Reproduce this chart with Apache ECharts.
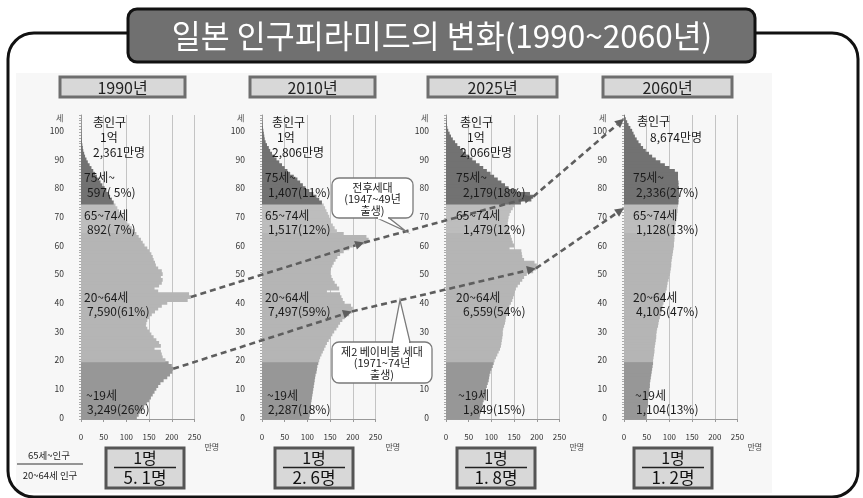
<!DOCTYPE html>
<html><head><meta charset="utf-8">
<script src="https://cdn.jsdelivr.net/npm/echarts@6/dist/echarts.min.js"></script>
<style>html,body{margin:0;padding:0;background:#fff}#c{width:863px;height:498px}</style>
</head><body><div id="c"></div>
<script>
// ---------- data ----------
const titleText = '일본 인구피라미드의 변화(1990~2060년)';
const years = ['1990년', '2010년', '2025년', '2060년'];
const ages = ['0','1','2','3','4','5','6','7','8','9','10','11','12','13','14','15','16','17','18','19','20','21','22','23','24','25','26','27','28','29','30','31','32','33','34','35','36','37','38','39','40','41','42','43','44','45','46','47','48','49','50','51','52','53','54','55','56','57','58','59','60','61','62','63','64','65','66','67','68','69','70','71','72','73','74','75','76','77','78','79','80','81','82','83','84','85','86','87','88','89','90','91','92','93','94','95','96','97','98','99','100','101','102','103','104','105'];
const xTicks = [0, 50, 100, 150, 200, 250];
// population by single age (만명)
const pop1990 = [123,127,131,135,139,145,150,154,158,162,
  166,170,175,182,190,196,201,203,200,193,
  186,180,178,176,162,176,172,166,160,155,
  150,146,143,144,146,150,156,163,170,178,
  190,235,242,238,170,162,172,178,180,176,
  180,178,170,165,163,160,158,155,150,146,
  140,136,132,127,122,117,112,107,102,97,
  93,88,84,80,76,72,68,64,60,56,
  52,47,43,39,35,31,27,23,19,15,
  12,9,7,5,4,3,2,1.5,1,0.7,
  0.5,0.3,0,0,0,0];
const pop2010 = [104,105,106,107,107,108,109,110,111,112,
  113,114,115,116,117,118,120,121,122,124,
  126,128,131,134,137,140,143,147,151,155,
  159,164,168,172,177,182,192,198,200,196,
  182,178,175,172,143,170,165,160,156,153,
  150,150,152,155,158,162,166,172,180,192,
  200,225,235,230,180,165,160,156,152,150,
  148,145,142,139,136,132,126,120,113,104,
  96,90,84,78,70,62,56,50,44,38,
  32,27,22,18,15,11,8,6,5,4,
  3,2,1,0.5,0,0];
const pop2025 = [74,75,77,78,80,81,83,84,86,87,
  88,90,92,94,95,96,98,100,103,105,
  107,110,113,116,119,121,122,123,124,125,
  125,126,128,130,131,132,134,136,138,140,
  143,146,148,150,152,154,158,163,168,172,
  178,192,198,200,195,172,168,167,166,140,
  150,147,145,143,141,139,137,136,136,137,
  138,140,143,147,152,165,188,192,185,155,
  138,130,122,114,106,98,90,82,74,66,
  58,51,44,37,31,25,20,15,11,8,
  5,3,2,1,0.5,0];
const pop2060 = [50,50,51,51,52,53,53,54,55,55,
  56,57,57,58,59,60,61,62,63,64,
  64,65,66,67,67,68,69,70,71,71,
  72,73,75,76,77,79,80,82,84,85,
  87,88,89,90,92,94,95,96,98,99,
  101,102,103,104,104,105,106,107,108,109,
  110,110,111,111,112,112,113,113,114,115,
  116,117,118,118,119,120,120,121,121,121,
  121,120,120,119,119,119,112,100,90,80,
  70,62,55,48,42,37,32,28,24,21,
  18,14,10,7,4,2];
const pops = [pop1990, pop2010, pop2025, pop2060];
const groupNames = ['~19세', '20~64세', '65~74세', '75세~'];
const groupRanges = [[0,19],[20,64],[65,74],[75,105]];
const groupValues = [
  ['3,249(26%)', '7,590(61%)', '892( 7%)', '597( 5%)'],
  ['2,287(18%)', '7,497(59%)', '1,517(12%)', '1,407(11%)'],
  ['1,849(15%)', '6,559(54%)', '1,479(12%)', '2,179(18%)'],
  ['1,104(13%)', '4,105(47%)', '1,128(13%)', '2,336(27%)']
];
const totals = [['총인구','1억','2,361만명'], ['총인구','1억','2,806만명'], ['총인구','1억','2,066만명'], ['총인구','','8,674만명']];
const ratioTop = ['1명','1명','1명','1명'];
const ratioBottom = ['5. 1명','2. 6명','1. 8명','1. 2명'];
const ratioLabel = ['65세~인구', '20~64세 인구'];
const callouts = [['전후세대','(1947~49년','출생)'], ['제2 베이비붐 세대','(1971~74년','출생)']];
// cohort ages tracked by the dashed arrows (per panel)
const cohortA = [42, 61, 77, 100];
const cohortB = [17, 37, 52, 72];

// ---------- layout ----------
const FONT = '"Noto Sans CJK KR", "Noto Sans", sans-serif';
const gridLeft = [81, 262, 446, 624];
const gridW = 113.5, gridTop = 115, gridH = 304;
const groupColors = ['#979797', '#b5b5b5', '#bdbdbd', '#727272'];

const chart = echarts.init(document.getElementById('c'));
const grids = [], xAxes = [], yAxes = [], series = [];
for (let k = 0; k < 4; k++) {
  grids.push({left: gridLeft[k], top: gridTop, width: gridW, height: gridH, containLabel: false});
  xAxes.push({type: 'value', gridIndex: k, min: xTicks[0], max: xTicks[xTicks.length-1], interval: 50,
    axisLine: {show: true, lineStyle: {color: '#999', width: 1}},
    axisTick: {show: true, length: 3, lineStyle: {color: '#999'}},
    splitLine: {show: true, lineStyle: {color: '#c4c4c4', width: 1}},
    axisLabel: {fontSize: 8, color: '#333', margin: 14, fontFamily: FONT}});
  yAxes.push({type: 'category', gridIndex: k, data: ages, boundaryGap: true,
    axisLine: {show: true, lineStyle: {color: '#999'}},
    axisTick: {show: true, interval: 0, length: 2, lineStyle: {color: '#aaa'}},
    axisLabel: {fontSize: 8.5, color: '#333', margin: 17, fontFamily: FONT,
      interval: (i) => i % 10 === 0},
    splitLine: {show: false}});
  for (let g = 0; g < 4; g++) {
    const [lo, hi] = groupRanges[g];
    series.push({type: 'bar', xAxisIndex: k, yAxisIndex: k, stack: 'p' + k,
      barWidth: 3.9, silent: true,
      itemStyle: {color: groupColors[g]},
      data: pops[k].map((v, i) => (i >= lo && i <= hi) ? v : '-')});
  }
}
chart.setOption({animation: false, grid: grids, xAxis: xAxes, yAxis: yAxes, series: series});

// ---------- annotations ----------
const G = [];
const T = (text, x, y, size, opt) => G.push(Object.assign({type: 'text', z: 50, silent: true,
  style: Object.assign({text: text, x: x, y: y, fill: '#1a1a1a', font: size + 'px ' + FONT,
    textAlign: 'left', textVerticalAlign: 'middle', align: 'left', verticalAlign: 'middle'}, opt || {})}));
const TC = (text, x, y, size, fill) => T(text, x, y, size, {textAlign: 'center', align: 'center', fill: fill || '#1a1a1a'});

// background tint, frame, title
G.push({type: 'rect', z: -1, silent: true, shape: {x: 16, y: 73, width: 756, height: 420}, style: {fill: '#f7f7f7'}});
G.push({type: 'rect', z: 1, silent: true, shape: {x: 8, y: 33, width: 850, height: 464, r: 26}, style: {fill: 'none', stroke: '#111', lineWidth: 3}});
G.push({type: 'rect', z: 2, silent: true, shape: {x: 128, y: 9, width: 627, height: 53, r: 9}, style: {fill: '#707070', stroke: '#111', lineWidth: 3}});
G.push({type: 'text', z: 3, silent: true, style: {text: titleText, x: 442, y: 36, fill: '#fff', font: '31.5px ' + FONT, textAlign: 'center', textVerticalAlign: 'middle', align: 'center', verticalAlign: 'middle'}});

// per-panel texts
const textOffsets = { // [x offset from axis, y]
  total: [[12,122],[10,122],[14,122],[13,121]],
  totalSub: [[19,137],[15,137],[21,137],[26,137]],
  totalNum: [[12,152],[10,152],[14,152],[26,137]],
};
const grpY = [[395, 409], [297, 311], [215, 229], [177, 192]];
for (let k = 0; k < 4; k++) {
  const ax = gridLeft[k];
  // year box
  const bx = [60, 250, 428, 603][k], bw = [125, 125, 129, 129][k];
  G.push({type: 'rect', z: 5, silent: true, shape: {x: bx, y: 77, width: bw, height: 20}, style: {fill: '#d8d8d8', stroke: '#6e6e6e', lineWidth: 3}});
  TC(years[k], bx + bw / 2, 87.5, 16, '#222');
  // totals
  T(totals[k][0], ax + textOffsets.total[k][0], textOffsets.total[k][1], 12);
  if (totals[k][1]) T(totals[k][1], ax + textOffsets.totalSub[k][0], textOffsets.totalSub[k][1], 12);
  T(totals[k][2], ax + textOffsets.totalNum[k][0], textOffsets.totalNum[k][1], 12);
  // group labels
  for (let g = 0; g < 4; g++) {
    T(groupNames[g], ax + 3 + (g === 0 ? 2 : 0) + (k === 3 ? 6 : (k === 2 ? 7 : 0)), grpY[g][0], 12);
    T(groupValues[k][g], ax + 6 + (k === 3 ? 6 : (k === 2 ? 11 : 0)), grpY[g][1], 12);
  }
  // axis unit labels
  T('세', ax - 25, gridTop + 3, 8, {fill: '#444'});
  T('만명', ax + gridW + 10, 447, 8, {fill: '#444'});
  // ratio box
  const rx = [106, 275, 457, 634][k], rw = 78;
  G.push({type: 'rect', z: 5, silent: true, shape: {x: rx, y: 448, width: rw, height: 40}, style: {fill: '#d8d8d8', stroke: '#555', lineWidth: 3}});
  G.push({type: 'line', z: 6, silent: true, shape: {x1: rx + 8, y1: 467.5, x2: rx + rw - 8, y2: 467.5}, style: {stroke: '#222', lineWidth: 1.5}});
  TC(ratioTop[k], rx + rw / 2, 458, 16, '#111');
  TC(ratioBottom[k], rx + rw / 2, 478, 17, '#111');
}
// ratio legend at left
TC(ratioLabel[0], 49, 455, 9.5, '#222');
G.push({type: 'line', z: 6, silent: true, shape: {x1: 17, y1: 464, x2: 83, y2: 464}, style: {stroke: '#333', lineWidth: 1}});
TC(ratioLabel[1], 50, 475, 9.5, '#222');

// cohort arrows from data coordinates
function px(k, v, age) { return chart.convertToPixel({gridIndex: k}, [v, String(age)]); }
function cohortPts(c, lastUp) {
  const pts = [];
  for (let k = 0; k < 4; k++) {
    const v = k < 3 ? pops[k][c[k]] : 0;
    const p = px(k, v, c[k]);
    if (k === 3) p[1] -= lastUp;
    pts.push(p);
  }
  return pts;
}
const lineA = cohortPts(cohortA, 12), lineB = cohortPts(cohortB, 3);
function arrowSeg(p, q) {
  const dx = q[0] - p[0], dy = q[1] - p[1], L = Math.hypot(dx, dy), ux = dx / L, uy = dy / L;
  const AL = 9, AW = 4.5;
  const bx = q[0] - ux * AL, by = q[1] - uy * AL;
  G.push({type: 'line', z: 40, silent: true, shape: {x1: p[0], y1: p[1], x2: bx, y2: by}, style: {stroke: '#5e5e5e', lineWidth: 2.6, lineDash: [6, 4]}});
  G.push({type: 'polygon', z: 40, silent: true, shape: {points: [[q[0], q[1]], [bx - uy * AW, by + ux * AW], [bx + uy * AW, by - ux * AW]]}, style: {fill: '#5e5e5e'}});
}
[lineA, lineB].forEach(pts => { for (let i = 0; i < 3; i++) arrowSeg(pts[i], pts[i + 1]); });

function onSeg(pts, i, x) { const p = pts[i], q = pts[i + 1]; const t = (x - p[0]) / (q[0] - p[0]); return [x, p[1] + t * (q[1] - p[1])]; }
function callout(lines, box, base, tip) {
  G.push({type: 'rect', z: 45, silent: true, shape: {x: box[0], y: box[1], width: box[2], height: box[3], r: 7}, style: {fill: '#fff', stroke: '#7a7a7a', lineWidth: 1.3}});
  G.push({type: 'polygon', z: 46, silent: true, shape: {points: [base[0], tip, base[1]]}, style: {fill: '#fff', stroke: '#7a7a7a', lineWidth: 1.3}});
  G.push({type: 'line', z: 47, silent: true, shape: {x1: base[0][0] + 1, y1: base[0][1], x2: base[1][0] - 1, y2: base[1][1]}, style: {stroke: '#fff', lineWidth: 2.5}});
  const cx = box[0] + box[2] / 2;
  lines.forEach((s, i) => G.push({type: 'text', z: 48, silent: true, style: {text: s, x: cx, y: box[1] + 10 + i * 11.3, fill: '#222', font: '11px ' + FONT, textAlign: 'center', textVerticalAlign: 'middle', align: 'center', verticalAlign: 'middle'}}));
}
callout(callouts[0], [332, 178, 81, 40], [[377, 218], [389, 218]], onSeg(lineA, 1, 406));
callout(callouts[1], [332, 342, 100, 41], [[392, 342], [410, 342]], onSeg(lineB, 1, 400));

chart.setOption({graphic: {elements: G}});
</script>
</body></html>
